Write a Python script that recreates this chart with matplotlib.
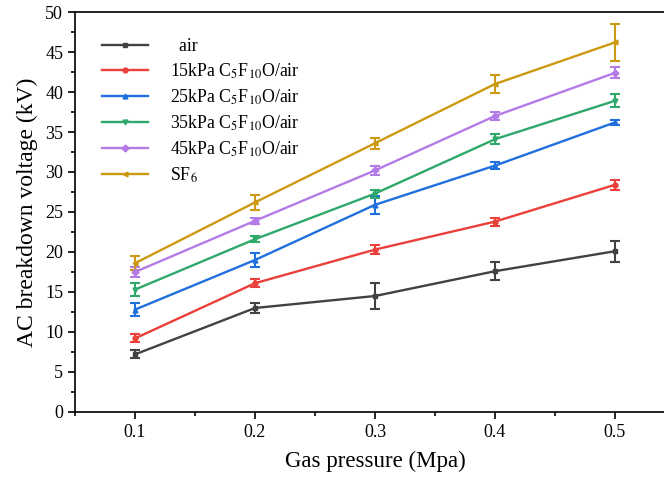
import matplotlib
matplotlib.use('Agg')
import matplotlib.pyplot as plt
from matplotlib.ticker import MultipleLocator

plt.rcParams['font.family'] = ['Liberation Serif', 'DejaVu Serif']
plt.rcParams['mathtext.fontset'] = 'stix'

# gas pressure (MPa)
pressure = [0.1, 0.2, 0.3, 0.4, 0.5]

# breakdown voltage (kV) and error bars
air = [7.2, 13.0, 14.5, 17.6, 20.1]
air_err = [0.5, 0.6, 1.6, 1.1, 1.3]
c15 = [9.2, 16.1, 20.3, 23.8, 28.4]
c15_err = [0.5, 0.5, 0.6, 0.5, 0.6]
c25 = [12.8, 19.0, 25.9, 30.8, 36.2]
c25_err = [0.8, 0.9, 1.1, 0.4, 0.3]
c35 = [15.3, 21.6, 27.3, 34.1, 38.9]
c35_err = [0.8, 0.4, 0.5, 0.6, 0.8]
c45 = [17.5, 23.9, 30.2, 37.0, 42.4]
c45_err = [0.6, 0.4, 0.6, 0.5, 0.7]
sf6 = [18.6, 26.2, 33.6, 41.0, 46.2]
sf6_err = [0.9, 0.9, 0.7, 1.15, 2.3]

labels = ['  air',
          r'15kPa C$_5$F$_{10}$O/air',
          r'25kPa C$_5$F$_{10}$O/air',
          r'35kPa C$_5$F$_{10}$O/air',
          r'45kPa C$_5$F$_{10}$O/air',
          r'SF$_6$']
colors = ['#424242', '#ea3f3a', '#1f6fdc', '#2fa86b', '#b47be6', '#cc9a12']
markers = ['s', 'o', '^', 'v', 'D', '<']
series = [(air, air_err), (c15, c15_err), (c25, c25_err),
          (c35, c35_err), (c45, c45_err), (sf6, sf6_err)]

fig = plt.figure(figsize=(6.64, 4.78), dpi=100)
ax = fig.add_axes([75 / 664, 66 / 478, 600 / 664, 400 / 478])

for (vals, errs), lab, col, mk in zip(series, labels, colors, markers):
    ax.errorbar(pressure, vals, yerr=errs, color=col, marker=mk, markersize=3.5,
                linewidth=1.7, elinewidth=1.5, capsize=3.5, capthick=1.5, label=lab)

ax.set_xlim(0.05, 0.55)
ax.set_ylim(0, 50)
ax.xaxis.set_major_locator(MultipleLocator(0.1))
ax.xaxis.set_minor_locator(MultipleLocator(0.05))
ax.yaxis.set_major_locator(MultipleLocator(5))
ax.yaxis.set_minor_locator(MultipleLocator(2.5))
ax.tick_params(which='both', direction='out', top=False, right=False,
               labelsize=13, width=1.2)
ax.tick_params(which='major', length=5)
ax.tick_params(which='minor', length=3)
for sp in ax.spines.values():
    sp.set_linewidth(1.2)

ax.set_xlabel('Gas pressure (Mpa)', fontsize=16.5, labelpad=7)
ax.set_ylabel('AC breakdown voltage (kV)', fontsize=17, labelpad=5)

# errorbar handles: drop the bars in the legend, keep line + marker
handles, labs = ax.get_legend_handles_labels()
handles = [h[0] for h in handles]
ax.legend(handles, labs, loc='upper left', frameon=False, fontsize=12.8,
          handlelength=2.6, handletextpad=1.25, labelspacing=0.37,
          bbox_to_anchor=(0.018, 0.975))

fig.savefig('out.png', dpi=100)
